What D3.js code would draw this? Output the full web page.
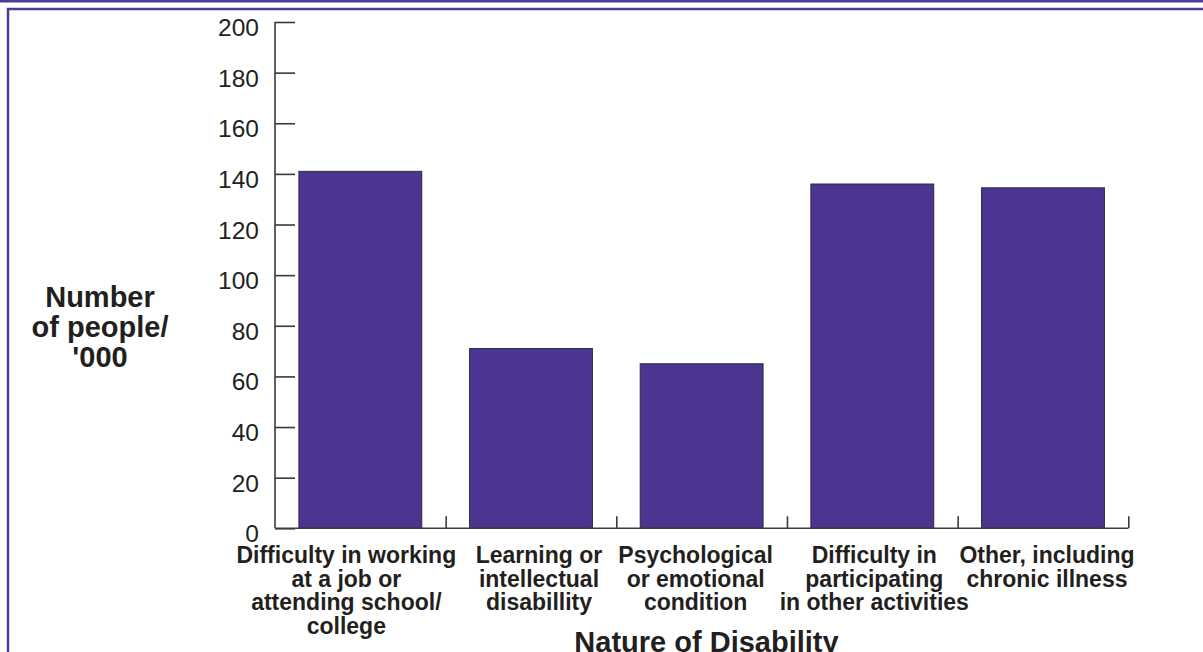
<!DOCTYPE html>
<html>
<head>
<meta charset="utf-8">
<script src="https://cdn.jsdelivr.net/npm/d3@7"></script>
<style>
  html, body { margin: 0; padding: 0; background: #fff; overflow: hidden; }
  svg { display: block; }
</style>
</head>
<body>
<svg id="chart" width="1203" height="652"></svg>
<script>
// Number of people ('000) by nature of disability
const categories = [
  ["Difficulty in working", "at a job or", "attending school/", "college"],
  ["Learning or", "intellectual", "disabillity"],
  ["Psychological", "or emotional", "condition"],
  ["Difficulty in", "participating", "in other activities"],
  ["Other, including", "chronic illness"]
];
const values = [141, 71, 65, 136, 134.5];
const yTicks = [0, 20, 40, 60, 80, 100, 120, 140, 160, 180, 200];
const yTitle = ["Number", "of people/", "'000"];
const xTitle = "Nature of Disability";

// small horizontal nudges for the category label blocks
const labelShift = [-14, 8, -6, 2, 4];

const W = 1203, H = 652;
const purple = "#4b3591";
const frameColor = "#4f3b96";
const ink = "#231f20";
const axisColor = "#3a3a3a";
const font = "'Liberation Sans', Arial, Helvetica, sans-serif";

const svg = d3.select("#chart");

// page frame
svg.append("rect").attr("x", 0).attr("y", 0).attr("width", W).attr("height", 2.5)
  .attr("fill", frameColor);
svg.append("rect").attr("x", 8).attr("y", 9).attr("width", W + 20).attr("height", H + 20)
  .attr("fill", "none").attr("stroke", frameColor).attr("stroke-width", 2.5);

const plot = { left: 275, right: 1128.3, top: 22, bottom: 528.3 };

const x = d3.scaleBand()
  .domain(d3.range(categories.length))
  .range([plot.left, plot.right])
  .paddingInner(0.28)
  .paddingOuter(0.14);

const y = d3.scaleLinear().domain([0, 200]).range([plot.bottom, plot.top]);

// bars
svg.append("g").selectAll("rect").data(values).join("rect")
  .attr("x", (d, i) => x(i))
  .attr("y", d => y(d))
  .attr("width", x.bandwidth())
  .attr("height", d => y(0) - y(d))
  .attr("fill", purple)
  .attr("stroke", "#2e2a3e")
  .attr("stroke-width", 1);

// y axis: ticks point inward, labels on the left
const yAxis = d3.axisRight(y).tickValues(yTicks).tickSize(20).tickFormat("");
const gy = svg.append("g").attr("transform", `translate(${plot.left},0)`).call(yAxis);
gy.select(".domain").attr("d", `M0,${plot.top}V${plot.bottom}`);
gy.selectAll("line, path").attr("stroke", axisColor).attr("stroke-width", 1.6);

svg.append("g").selectAll("text").data(yTicks).join("text")
  .attr("x", plot.left - 16)
  .attr("y", d => y(d) + 14)
  .attr("text-anchor", "end")
  .attr("font-family", font)
  .attr("font-size", 24.5)
  .attr("fill", ink)
  .text(d => d);

// x axis baseline with upward ticks at band boundaries
const step = x.step();
const boundaries = d3.range(1, categories.length + 1).map(i => x(i - 1) + x.bandwidth() + (step - x.bandwidth()) / 2);
const xb = d3.scaleLinear().domain([plot.left, plot.right]).range([plot.left, plot.right]);
const xAxis = d3.axisTop(xb).tickValues(boundaries).tickSize(12).tickSizeOuter(0).tickFormat("");
const gx = svg.append("g").attr("transform", `translate(0,${plot.bottom})`).call(xAxis);
gx.select(".domain").attr("d", `M${plot.left},0H${plot.right}`);
gx.selectAll("line, path").attr("stroke", axisColor).attr("stroke-width", 1.6);

// category labels
const catG = svg.append("g")
  .attr("font-family", font).attr("font-weight", "bold")
  .attr("font-size", 23).attr("fill", ink).attr("text-anchor", "middle");
categories.forEach((lines, i) => {
  const cx = x(i) + x.bandwidth() / 2 + labelShift[i];
  catG.append("text")
    .selectAll("tspan").data(lines).join("tspan")
    .attr("x", cx)
    .attr("y", (d, j) => 563 + j * 23.5)
    .text(d => d);
});

// axis titles
svg.append("text")
  .attr("font-family", font).attr("font-weight", "bold")
  .attr("font-size", 29).attr("fill", ink).attr("text-anchor", "middle")
  .selectAll("tspan").data(yTitle).join("tspan")
  .attr("x", 100)
  .attr("y", (d, j) => 307.3 + j * 29.7)
  .text(d => d);

svg.append("text")
  .attr("x", 706.5).attr("y", 652)
  .attr("font-family", font).attr("font-weight", "bold")
  .attr("font-size", 29).attr("fill", ink).attr("text-anchor", "middle")
  .text(xTitle);
</script>
</body>
</html>
